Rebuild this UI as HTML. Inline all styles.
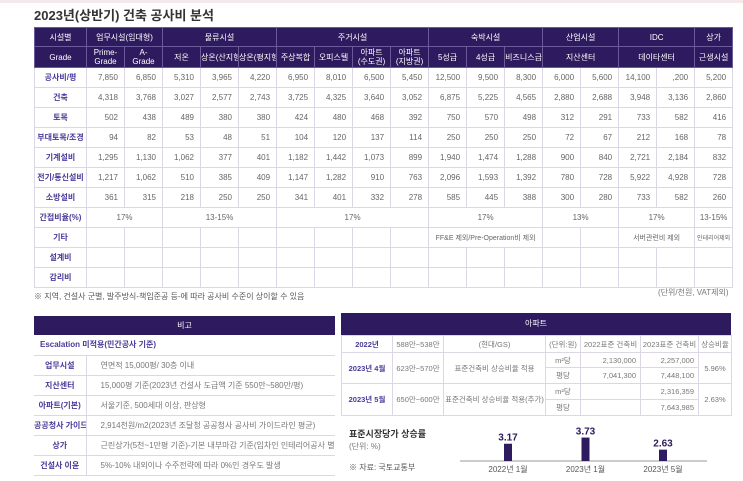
<!DOCTYPE html>
<html><head><meta charset="utf-8">
<style>
*{box-sizing:border-box;margin:0;padding:0}
body{width:743px;height:481px;background:#fff;position:relative;overflow:hidden;font-family:"Liberation Sans","Noto Sans CJK KR",sans-serif;color:#666}
.strip{position:absolute;left:0;top:0;width:743px;height:3px;background:#f6e9ec}
.title{position:absolute;left:34px;top:5px;font-size:13px;font-weight:bold;color:#333}
table{border-collapse:collapse;table-layout:fixed;position:absolute}
td,th{font-size:8px;text-align:center;white-space:nowrap;overflow:hidden}
#main th{background:#2e1a5e;color:#fff;font-weight:normal;border:1px solid #6a5a9a;line-height:9px}
#main td{border:1px solid #ddd6e6;text-align:right;padding-right:6px;color:#666}
#main td.lab{text-align:center;padding:0;color:#4a3a9a;font-weight:bold}
#main td.c{text-align:center;padding:0}
.note{position:absolute;font-size:8px;color:#555}
#bigo td{border-bottom:1px solid #ddd6e6;text-align:left;color:#777;padding-left:14px}
#bigo td.lab{color:#4a3a9a;font-weight:bold;text-align:center;padding:0;border-right:1px solid #ddd6e6}
#apt td{border:1px solid #ddd6e6;color:#777;font-size:7.5px}
#apt td.lab{color:#4a3a9a;font-weight:bold}
.hdr{background:#2e1a5e;color:#fff;font-size:8px;text-align:center}
</style></head><body>
<div class="strip"></div>
<div class="title">2023년(상반기) 건축 공사비 분석</div>

<table id="main" style="left:34px;top:27px;width:698px">
<colgroup><col style="width:52px"><col span="17" style="width:38px"></colgroup>
<tr style="height:19px"><th>시설별</th><th colspan="2">업무시설(임대형)</th><th colspan="3">물류시설</th><th colspan="4">주거시설</th><th colspan="3">숙박시설</th><th colspan="2">산업시설</th><th colspan="2">IDC</th><th>상가</th></tr>
<tr style="height:21px"><th>Grade</th><th>Prime-<br>Grade</th><th>A-<br>Grade</th><th>저온</th><th>상온(산지형</th><th>상온(평지형)</th><th>주상복합</th><th>오피스텔</th><th>아파트<br>(수도권)</th><th>아파트<br>(지방권)</th><th>5성급</th><th>4성급</th><th>비즈니스급</th><th colspan="2">지산센터</th><th colspan="2">데이타센터</th><th>근생시설</th></tr>
<tbody id="mb"></tbody>
</table>
<div class="note" style="left:34px;top:291px">※ 지역, 건설사 군별, 발주방식-책임준공 등-에 따라 공사비 수준이 상이할 수 있음</div>
<div class="note" style="left:658px;top:287px;color:#777">(단위/천원, VAT제외)</div>

<div class="hdr" style="position:absolute;left:34px;top:316px;width:301px;height:19px;line-height:19px">비고</div>
<table id="bigo" style="left:34px;top:335px;width:301px">
<colgroup><col style="width:52px"><col></colgroup>
<tr style="height:20px"><td colspan="2" style="padding-left:6px;color:#4a3a9a;font-weight:bold">Escalation 미적용(민간공사 기준)</td></tr>
<tr style="height:20px"><td class="lab">업무시설</td><td>연면적 15,000평/ 30층 이내</td></tr>
<tr style="height:20px"><td class="lab">지산센터</td><td>15,000평 기준(2023년 건설사 도급액 기준 550만~580만/평)</td></tr>
<tr style="height:20px"><td class="lab">아파트(기본)</td><td>서울기준, 500세대 이상, 판상형</td></tr>
<tr style="height:20px"><td class="lab">공공청사 가이드</td><td>2,914천원/m2(2023년 조달청 공공청사 공사비 가이드라인 평균)</td></tr>
<tr style="height:20px"><td class="lab">상가</td><td>근린상가(5천~1만평 기준)-기본 내부마감 기준(임차인 인테리어공사 별도)</td></tr>
<tr style="height:20px"><td class="lab">건설사 이윤</td><td>5%-10% 내외이나 수주전략에 따라 0%인 경우도 발생</td></tr>
</table>

<div class="hdr" style="position:absolute;left:341px;top:313px;width:390px;height:22px;line-height:22px">아파트</div>
<table id="apt" style="left:341px;top:335px;width:390px">
<colgroup><col style="width:51px"><col style="width:51px"><col style="width:102px"><col style="width:35px"><col style="width:60px"><col style="width:58px"><col style="width:33px"></colgroup>
<tr style="height:17px"><td class="lab">2022년</td><td>588만~538만</td><td>(현대/GS)</td><td>(단위:원)</td><td>2022표준 건축비</td><td>2023표준 건축비</td><td>상승비율</td></tr>
<tr style="height:15px"><td class="lab" rowspan="2">2023년 4월</td><td rowspan="2">623만~570만</td><td rowspan="2">표준건축비 상승비율 적용</td><td>m²당</td><td style="text-align:right;padding-right:4px">2,130,000</td><td style="text-align:right;padding-right:4px">2,257,000</td><td rowspan="2">5.96%</td></tr>
<tr style="height:16px"><td>평당</td><td style="text-align:right;padding-right:4px">7,041,300</td><td style="text-align:right;padding-right:4px">7,448,100</td></tr>
<tr style="height:16px"><td class="lab" rowspan="2">2023년 5월</td><td rowspan="2">650만~600만</td><td rowspan="2">표준건축비 상승비율 적용(추가)</td><td>m²당</td><td></td><td style="text-align:right;padding-right:4px">2,316,359</td><td rowspan="2">2.63%</td></tr>
<tr style="height:16px"><td>평당</td><td></td><td style="text-align:right;padding-right:4px">7,643,985</td></tr>
</table>

<div class="note" style="left:349px;top:427px;font-size:9px;font-weight:bold;color:#333">표준시장당가 상승률</div>
<div class="note" style="left:349px;top:441px;color:#777">(단위: %)</div>
<div class="note" style="left:349px;top:462px">※ 자료: 국토교통부</div>
<svg id="chart" style="position:absolute;left:0;top:0" width="743" height="481"></svg>

<script>
const rowLabels=["공사비/평","건축","토목","부대토목/조경","기계설비","전기/통신설비","소방설비"];
const rowValues=[
["7,850","6,850","5,310","3,965","4,220","6,950","8,010","6,500","5,450","12,500","9,500","8,300","6,000","5,600","14,100",",200","5,200"],
["4,318","3,768","3,027","2,577","2,743","3,725","4,325","3,640","3,052","6,875","5,225","4,565","2,880","2,688","3,948","3,136","2,860"],
["502","438","489","380","380","424","480","468","392","750","570","498","312","291","733","582","416"],
["94","82","53","48","51","104","120","137","114","250","250","250","72","67","212","168","78"],
["1,295","1,130","1,062","377","401","1,182","1,442","1,073","899","1,940","1,474","1,288","900","840","2,721","2,184","832"],
["1,217","1,062","510","385","409","1,147","1,282","910","763","2,096","1,593","1,392","780","728","5,922","4,928","728"],
["361","315","218","250","250","341","401","332","278","585","445","388","300","280","733","582","260"]];
const mb=document.getElementById('mb');
rowLabels.forEach((l,i)=>{
  const tr=document.createElement('tr');tr.style.height='20px';
  let h='<td class="lab">'+l+'</td>';
  rowValues[i].forEach(v=>h+='<td>'+v+'</td>');
  tr.innerHTML=h;
  
  
  mb.appendChild(tr);
});
const extra=[
'<td class="lab">간접비율(%)</td><td class="c" colspan="2">17%</td><td class="c" colspan="3">13-15%</td><td class="c" colspan="4">17%</td><td class="c" colspan="3">17%</td><td class="c" colspan="2">13%</td><td class="c" colspan="2">17%</td><td class="c">13-15%</td>',
'<td class="lab">기타</td>'+'<td></td>'.repeat(9)+'<td class="c" colspan="3" style="font-size:7px">FF&amp;E 제외/Pre-Operation비 제외</td><td></td><td></td><td class="c" colspan="2" style="font-size:7px">서버관련비 제외</td><td class="c" style="font-size:6px">인테리어제외</td>',
'<td class="lab">설계비</td>'+'<td></td>'.repeat(17),
'<td class="lab">감리비</td>'+'<td></td>'.repeat(17)];
extra.forEach((h,i)=>{
  const tr=document.createElement('tr');tr.style.height='20px';tr.innerHTML=h;
  
  
  mb.appendChild(tr);
});

// chart
const cats=["2022년 1월","2023년 1월","2023년 5월"];
const vals=[3.17,3.73,2.63];
const svg=document.getElementById('chart');const NS='http://www.w3.org/2000/svg';
const xs=i=>508+i*77.5;
const ys=v=>461-(v-1.6)*11;
const ax=document.createElementNS(NS,'line');
ax.setAttribute('x1',460);ax.setAttribute('x2',707);ax.setAttribute('y1',461);ax.setAttribute('y2',461);
ax.setAttribute('stroke','#999');


svg.appendChild(ax);
vals.forEach((v,i)=>{
  const r=document.createElementNS(NS,'rect');
  r.setAttribute('x',xs(i)-4);r.setAttribute('width',8);r.setAttribute('y',ys(v));r.setAttribute('height',461-ys(v));r.setAttribute('fill','#2e1a5e');
  
  
  svg.appendChild(r);
  const t=document.createElementNS(NS,'text');
  t.setAttribute('x',xs(i));t.setAttribute('y',ys(v)-3);t.setAttribute('text-anchor','middle');
  t.setAttribute('font-size','10');t.setAttribute('font-weight','bold');t.setAttribute('fill','#2e1a5e');
  t.setAttribute('font-family','Liberation Sans, sans-serif');t.textContent=v.toFixed(2);
  
  
  svg.appendChild(t);
  const c=document.createElementNS(NS,'text');
  c.setAttribute('x',xs(i));c.setAttribute('y',472);c.setAttribute('text-anchor','middle');
  c.setAttribute('font-size','8');c.setAttribute('fill','#555');
  c.setAttribute('font-family','Liberation Sans, Noto Sans CJK KR, sans-serif');c.textContent=cats[i];
  
  
  svg.appendChild(c);
});
</script>
</body></html>
